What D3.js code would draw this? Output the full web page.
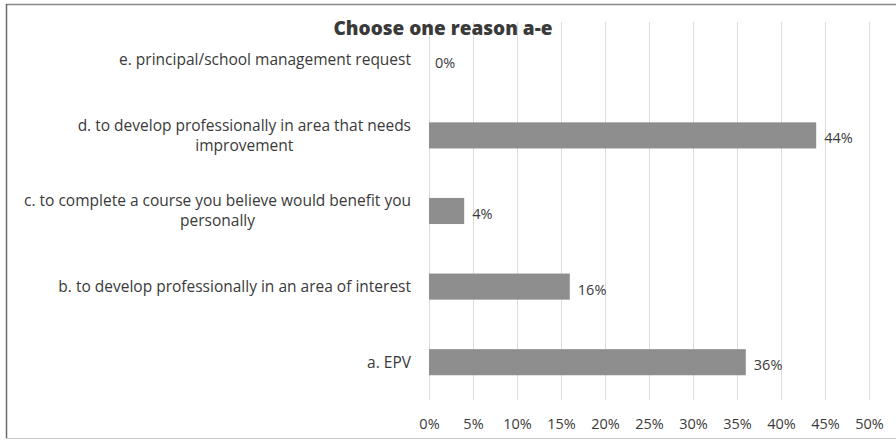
<!DOCTYPE html>
<html>
<head>
<meta charset="utf-8">
<script src="https://cdn.jsdelivr.net/npm/d3@7"></script>
<style>
  body { margin: 0; background: #fff; }
  text { font-family: "Open Sans", sans-serif; fill: #3a3a3a; }
</style>
</head>
<body>
<svg id="chart" width="896" height="440"></svg>
<script>
const categories = [
  'e. principal/school management request',
  'd. to develop professionally in area that needs improvement',
  'c. to complete a course you believe would benefit you personally',
  'b. to develop professionally in an area of interest',
  'a. EPV'
];
// category labels as wrapped in the picture
const categoryLines = [
  ['e. principal/school management request'],
  ['d. to develop professionally in area that needs', 'improvement'],
  ['c. to complete a course you believe would benefit you', 'personally'],
  ['b. to develop professionally in an area of interest'],
  ['a. EPV']
];
const values = [0, 44, 4, 16, 36];
const xTicks = [0, 5, 10, 15, 20, 25, 30, 35, 40, 45, 50];
const title = 'Choose one reason a-e';

const svg = d3.select('#chart');
const margin = { top: 22, right: 27, bottom: 40, left: 429 };
const width = 896 - margin.left - margin.right;
const height = 440 - margin.top - margin.bottom;

// frame
svg.append('line').attr('x1', 6).attr('x2', 896).attr('y1', 4.5).attr('y2', 4.5)
  .attr('stroke', '#8a8a8a').attr('stroke-width', 1.5);
svg.append('line').attr('x1', 6.5).attr('x2', 6.5).attr('y1', 4).attr('y2', 438)
  .attr('stroke', '#6a6a6a').attr('stroke-width', 1.5);
svg.append('line').attr('x1', 6).attr('x2', 896).attr('y1', 438.5).attr('y2', 438.5)
  .attr('stroke', '#c8c8c8').attr('stroke-width', 1);

const g = svg.append('g').attr('transform', `translate(${margin.left},${margin.top})`);

const x = d3.scaleLinear().domain([0, 50]).range([0, width]);
const y = d3.scaleBand().domain(categories).range([0, height])
  .paddingInner(0.655).paddingOuter(0.3275);

// gridlines
g.append('g').selectAll('line').data(xTicks).join('line')
  .attr('x1', d => Math.round(x(d)) + 0.5).attr('x2', d => Math.round(x(d)) + 0.5)
  .attr('y1', 0).attr('y2', height)
  .attr('stroke', '#dcdcdc').attr('stroke-width', 1);

// x axis tick labels
const xAxis = g.append('g').attr('transform', `translate(0,${height})`)
  .call(d3.axisBottom(x).tickValues(xTicks).tickSize(0).tickPadding(19).tickFormat(d => d + '%'));
xAxis.select('.domain').remove();
xAxis.selectAll('text').attr('font-size', 14.5).attr('font-family', '"Open Sans", sans-serif')
  .attr('fill', '#3a3a3a');

// bars
g.append('g').selectAll('rect').data(values).join('rect')
  .attr('x', 0)
  .attr('y', (d, i) => y(categories[i]))
  .attr('width', d => x(d))
  .attr('height', y.bandwidth())
  .attr('fill', '#8e8e8e');

// value labels
g.append('g').selectAll('text').data(values).join('text')
  .attr('x', d => x(d) + (d === 0 ? 6 : 8))
  .attr('y', (d, i) => y(categories[i]) + y.bandwidth() / 2 + 3)
  .attr('dy', '0.35em')
  .attr('font-size', 14.5)
  .text(d => d + '%');

// category labels
const labels = g.append('g').selectAll('text').data(categoryLines).join('text')
  .attr('text-anchor', 'middle')
  .attr('font-size', 15.5)
  .attr('y', (d, i) => y(categories[i]) + y.bandwidth() / 2);
labels.each(function (lines) {
  const t = d3.select(this);
  const lh = 20;
  const y0 = -(lines.length - 1) * lh / 2;
  lines.forEach((line, k) => {
    t.append('tspan').attr('dy', k === 0 ? (y0 / 15.5 + 0.35) + 'em' : lh + 'px').text(line);
  });
});
// right-align the block, centre wrapped lines under the widest
labels.each(function () {
  const t = d3.select(this);
  const spans = t.selectAll('tspan');
  let maxW = 0;
  spans.each(function () { maxW = Math.max(maxW, this.getComputedTextLength()); });
  spans.attr('x', -18 - maxW / 2);
});

// title
svg.append('text')
  .attr('x', 443).attr('y', 35)
  .attr('text-anchor', 'middle')
  .attr('font-size', 19).attr('font-weight', 800)
  .attr('fill', '#333')
  .text(title);
</script>
</body>
</html>
